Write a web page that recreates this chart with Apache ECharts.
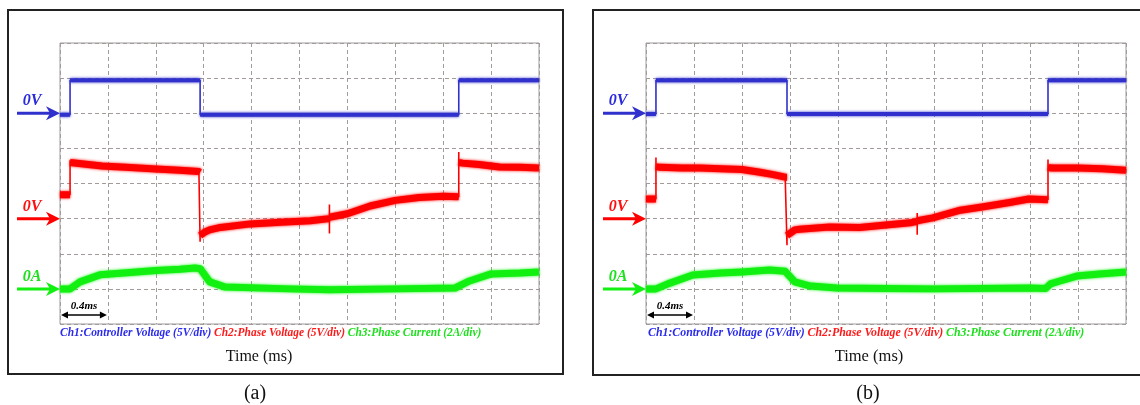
<!DOCTYPE html>
<html>
<head>
<meta charset="utf-8">
<title>Controller voltage / phase voltage / phase current</title>
<script src="https://cdn.jsdelivr.net/npm/echarts@6/dist/echarts.min.js"></script>
<style>
  html, body { margin: 0; padding: 0; background: #fff; }
  #chart { width: 1140px; height: 405px; }
</style>
</head>
<body>
<div id="chart"></div>
<script>
// time base: 10 div x 0.4 ms, 8 vertical div
const TIME_MAX = 4.0;
const TIME_DIV = 0.4;
const Y_DIVS = 8;

// ---- panel (a) ----
// Ch1 controller voltage (V)
const tA1 = [0, 0.084, 0.084, 1.17, 1.17, 3.33, 3.33, 4.0];
const vA1 = [-0.2, -0.2, 4.7, 4.7, -0.2, -0.2, 4.7, 4.7];
// Ch2 phase voltage (V)
const tA2 = [0, 0.084, 0.084, 0.084, 0.1, 0.35, 0.55, 0.8, 1.0, 1.16, 1.17, 1.17, 1.17, 1.21, 1.25, 1.34, 1.59, 1.84, 2.09,
  2.25, 2.25, 2.25, 2.25, 2.4, 2.59, 2.8, 3.0, 3.2, 3.33, 3.33, 3.33, 3.36, 3.5, 3.67, 3.84, 4.0];
const vA2 = [3.4, 3.4, 8.3, 8.0, 7.9, 7.5, 7.3, 7.05, 6.9, 6.7, 6.6, -3.3, -2.4, -1.9, -1.6, -1.25, -0.75, -0.5, -0.3,
  0.0, -2.1, 2.0, 0.2, 0.7, 1.8, 2.6, 3.0, 3.2, 3.1, 9.5, 8.0, 7.9, 7.7, 7.35, 7.3, 7.2];
// Ch3 phase current (A)
const tA3 = [0, 0.084, 0.167, 0.334, 0.585, 0.8, 1.0, 1.127, 1.17, 1.25, 1.38, 1.92, 2.25, 2.8, 3.3, 3.42, 3.6, 3.84, 4.0];
const vA3 = [0, 0, 0.4, 0.8, 0.93, 1.05, 1.12, 1.19, 1.15, 0.4, 0.1, 0.0, -0.05, 0.0, 0.05, 0.45, 0.85, 0.9, 0.96];

// ---- panel (b) ----
const tB1 = [0, 0.083, 0.083, 1.175, 1.175, 3.35, 3.35, 4.0];
const vB1 = [-0.1, -0.1, 4.7, 4.7, -0.1, -0.1, 4.7, 4.7];
const tB2 = [0, 0.083, 0.083, 0.083, 0.117, 0.3, 0.45, 0.62, 0.8, 0.95, 1.05, 1.16, 1.175, 1.175, 1.175, 1.24, 1.28, 1.53, 1.78, 2.0, 2.2,
  2.26, 2.26, 2.26, 2.26, 2.39, 2.62, 2.8, 3.03, 3.19, 3.35, 3.35, 3.35, 3.38, 3.6, 3.8, 4.0];
const vB2 = [2.8, 2.8, 8.7, 7.4, 7.3, 7.2, 7.2, 7.1, 7.0, 6.6, 6.3, 5.9, 5.9, -3.8, -2.4, -1.6, -1.5, -1.2, -1.25, -0.9, -0.6,
  -0.4, -2.3, 0.8, -0.3, 0.1, 1.2, 1.65, 2.3, 2.8, 2.7, 8.4, 7.3, 7.2, 7.2, 7.1, 6.9];
const tB3 = [0, 0.083, 0.2, 0.39, 0.62, 0.8, 1.03, 1.16, 1.24, 1.37, 1.59, 2.0, 2.39, 3.19, 3.33, 3.37, 3.45, 3.59, 3.78, 4.0];
const vB3 = [0, 0, 0.33, 0.79, 0.9, 0.96, 1.07, 1.0, 0.4, 0.16, 0.05, 0.02, 0.0, 0.05, 0.02, 0.28, 0.45, 0.73, 0.85, 0.96];

// channel settings: where 0 sits (in div from the bottom) and units per div
const CH1 = { zeroDiv: 6, perDiv: 5, color: "#3030cc", band: 4, label: "0V", labelColor: "#2b2bdd" };
const CH2 = { zeroDiv: 3, perDiv: 5, color: "#ff0000", band: 7, label: "0V", labelColor: "#ff1010" };
const CH3 = { zeroDiv: 1, perDiv: 2, color: "#12f012", band: 7, label: "0A", labelColor: "#1ee01e" };

const SERIF = '"Liberation Serif", "DejaVu Serif", serif';

const toDiv = (v, ch) => ch.zeroDiv + v / ch.perDiv;

// thin trace through every point (shows the fast edges)
const thinData = (ts, vs, ch) => ts.map((t, i) => [t, toDiv(vs[i], ch)]);

// thick noisy band: same points, broken wherever the trace jumps vertically
const bandData = (ts, vs, ch) => {
  const out = [];
  ts.forEach((t, i) => {
    if (i > 0 && t === ts[i - 1]) out.push([t, "-"]);
    out.push([t, toDiv(vs[i], ch)]);
  });
  return out;
};

const panels = [
  { grid: { left: 60, top: 43, width: 479, height: 281 }, traces: [[tA1, vA1, CH1], [tA2, vA2, CH2], [tA3, vA3, CH3]] },
  { grid: { left: 646, top: 43, width: 480, height: 281 }, traces: [[tB1, vB1, CH1], [tB2, vB2, CH2], [tB3, vB3, CH3]] },
];

const dashed = { show: true, lineStyle: { color: "#a39a9a", type: [4, 3], width: 1 } };

const series = [];
panels.forEach((p, gi) => {
  p.traces.forEach(([ts, vs, ch]) => {
    series.push({
      type: "line", xAxisIndex: gi, yAxisIndex: gi, data: bandData(ts, vs, ch),
      showSymbol: false, connectNulls: false, silent: true,
      lineStyle: { color: ch.color, width: ch.band, join: "round", cap: "butt", shadowBlur: 3, shadowColor: ch.color },
    });
    series.push({
      type: "line", xAxisIndex: gi, yAxisIndex: gi, data: thinData(ts, vs, ch),
      showSymbol: false, silent: true,
      lineStyle: { color: ch.color, width: 1.6 },
    });
  });
});

const chart = echarts.init(document.getElementById("chart"), null, { renderer: "canvas" });

chart.setOption({
  animation: false,
  backgroundColor: "#ffffff",
  grid: panels.map((p) => ({ ...p.grid, show: true, borderColor: "#9c9c9c", borderWidth: 1, containLabel: false })),
  xAxis: panels.map((p, i) => ({
    type: "value", gridIndex: i, min: 0, max: TIME_MAX, interval: TIME_DIV,
    axisLine: { show: false }, axisTick: { show: false }, axisLabel: { show: false },
    splitLine: dashed,
  })),
  yAxis: panels.map((p, i) => ({
    type: "value", gridIndex: i, min: 0, max: Y_DIVS, interval: 1,
    axisLine: { show: false }, axisTick: { show: false }, axisLabel: { show: false },
    splitLine: dashed,
  })),
  series,
});

// annotations placed from the axes: zero arrows, 0.4ms scale bar
const graphic = [];
const px = (gi, pt) => chart.convertToPixel({ gridIndex: gi }, pt);

const captions = [
  { box: { x: 8, y: 10, width: 555, height: 364 }, legendX: 60, legendSize: 11.45, timeX: 259, timeSize: 16, capX: 255, cap: "(a)" },
  { box: { x: 593, y: 10, width: 560, height: 365 }, legendX: 648, legendSize: 11.85, timeX: 869, timeSize: 16.5, capX: 868, cap: "(b)" },
];

panels.forEach((p, gi) => {
  const c = captions[gi];
  graphic.push({
    type: "rect", shape: c.box, silent: true,
    style: { fill: "none", stroke: "#222", lineWidth: 2 },
  });

  // zero-level arrows with labels
  [CH1, CH2, CH3].forEach((ch) => {
    const [x0, y] = px(gi, [0, ch.zeroDiv]);
    graphic.push({
      type: "line", silent: true,
      shape: { x1: x0 - 43, y1: y, x2: x0 - 8, y2: y },
      style: { stroke: ch.color, lineWidth: 3 },
    });
    graphic.push({
      type: "polygon", silent: true,
      shape: { points: [[x0 - 14, y - 7], [x0, y], [x0 - 14, y + 7], [x0 - 10, y]] },
      style: { fill: ch.color },
    });
    graphic.push({
      type: "text", silent: true,
      style: {
        x: x0 - 28, y: y - 12, text: ch.label, fill: ch.labelColor,
        font: `italic bold 16px ${SERIF}`, align: "center", verticalAlign: "middle",
      },
    });
  });

  // 0.4 ms scale bar
  const [sx0, sy] = px(gi, [0, 0]);
  const [sx1] = px(gi, [TIME_DIV, 0]);
  const by = sy - 9;
  graphic.push({
    type: "line", silent: true,
    shape: { x1: sx0 + 3, y1: by, x2: sx1 - 3, y2: by },
    style: { stroke: "#000", lineWidth: 1.5 },
  });
  graphic.push({
    type: "polygon", silent: true,
    shape: { points: [[sx0 + 1, by], [sx0 + 8, by - 3.5], [sx0 + 8, by + 3.5]] },
    style: { fill: "#000" },
  });
  graphic.push({
    type: "polygon", silent: true,
    shape: { points: [[sx1 - 1, by], [sx1 - 8, by - 3.5], [sx1 - 8, by + 3.5]] },
    style: { fill: "#000" },
  });
  graphic.push({
    type: "text", silent: true,
    style: {
      x: (sx0 + sx1) / 2, y: by - 9, text: "0.4ms", fill: "#000",
      font: `italic bold 11px ${SERIF}`, align: "center", verticalAlign: "middle",
    },
  });

  // channel legend line
  const rs = (color) => ({ fill: color, fontStyle: "italic", fontWeight: "bold", fontSize: c.legendSize, fontFamily: SERIF });
  graphic.push({
    type: "text", silent: true,
    style: {
      x: c.legendX, y: 333, align: "left", verticalAlign: "middle",
      text: "{b|Ch1:Controller Voltage (5V/div)} {r|Ch2:Phase Voltage (5V/div)} {g|Ch3:Phase Current (2A/div)}",
      font: `italic bold ${c.legendSize}px ${SERIF}`,
      rich: { b: rs("#2b2bee"), r: rs("#ff1a1a"), g: rs("#1ee01e") },
    },
  });

  graphic.push({
    type: "text", silent: true,
    style: {
      x: c.timeX, y: 357, text: "Time (ms)", fill: "#111",
      font: `${c.timeSize}px ${SERIF}`, align: "center", verticalAlign: "middle",
    },
  });
  graphic.push({
    type: "text", silent: true,
    style: {
      x: c.capX, y: 394, text: c.cap, fill: "#111",
      font: `20px ${SERIF}`, align: "center", verticalAlign: "middle",
    },
  });
});

chart.setOption({ graphic });
</script>
</body>
</html>
